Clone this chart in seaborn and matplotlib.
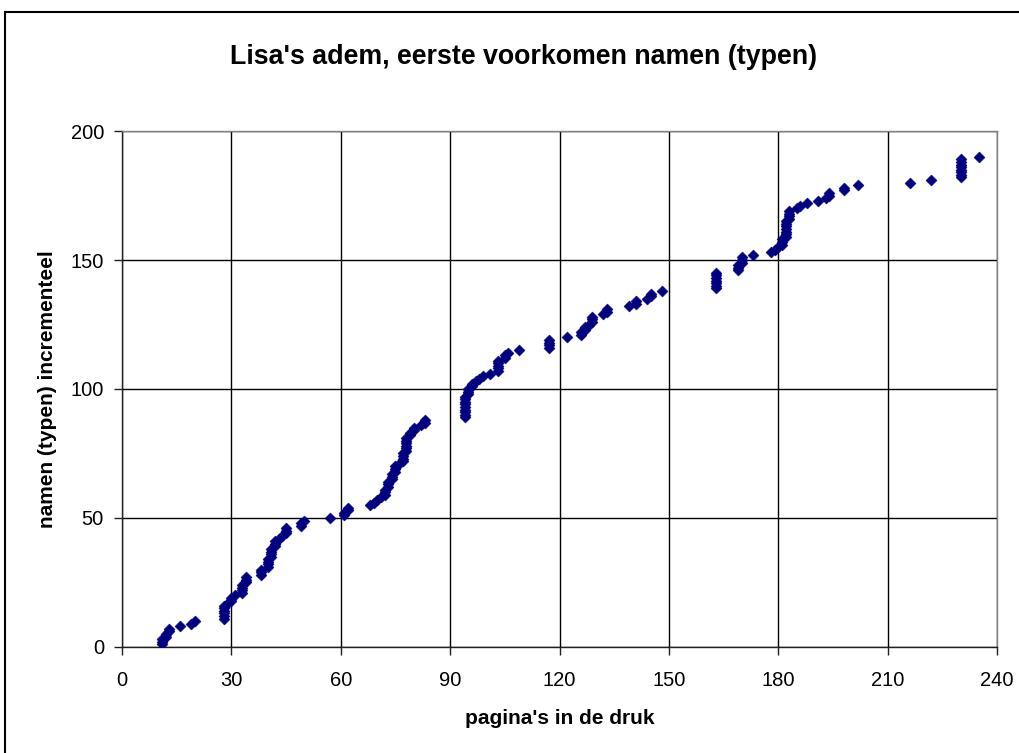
import matplotlib
matplotlib.use("Agg")
import matplotlib.pyplot as plt
import seaborn as sns
import pandas as pd
from matplotlib.patches import Rectangle

# Page (in the print edition) where each name occurs for the first time
pagina = [
    11, 11, 11, 12, 12, 13, 13, 16, 19, 20,
    28, 28, 28, 28, 28, 28, 29, 30, 30, 31,
    33, 33, 33, 33, 34, 34, 34, 38, 38, 38,
    40, 40, 40, 40, 41, 41, 41, 41, 42, 42,
    42, 43, 44, 45, 45, 45, 49, 49, 50, 57,
    61, 61, 62, 62, 68, 69, 70, 71, 72, 72,
    72, 73, 73, 73, 74, 74, 74, 75, 75, 75,
    76, 77, 77, 77, 77, 78, 78, 78, 78, 78,
    78, 79, 79, 80, 80, 82, 83, 83, 94, 94,
    94, 94, 94, 94, 94, 94, 94, 95, 95, 95,
    96, 96, 97, 98, 99, 101, 103, 103, 103, 103,
    103, 105, 105, 106, 109, 117, 117, 117, 117, 122,
    126, 126, 127, 127, 128, 129, 129, 129, 132, 133,
    133, 139, 141, 141, 144, 145, 145, 148, 163, 163,
    163, 163, 163, 163, 163, 169, 169, 169, 170, 170,
    170, 173, 178, 179, 180, 181, 181, 181, 182, 182,
    182, 182, 182, 182, 182, 183, 183, 183, 183, 185,
    186, 188, 191, 193, 194, 194, 198, 198, 202, 216,
    222, 230, 230, 230, 230, 230, 230, 230, 230, 235,
]

# Running count of distinct names (types)
namen = [
    1, 2, 3, 4, 5, 6, 7, 8, 9, 10,
    11, 12, 13, 14, 15, 16, 17, 18, 19, 20,
    21, 22, 23, 24, 25, 26, 27, 28, 29, 30,
    31, 32, 33, 34, 35, 36, 37, 38, 39, 40,
    41, 42, 43, 44, 45, 46, 47, 48, 49, 50,
    51, 52, 53, 54, 55, 56, 57, 58, 59, 60,
    61, 62, 63, 64, 65, 66, 67, 68, 69, 70,
    71, 72, 73, 74, 75, 76, 77, 78, 79, 80,
    81, 82, 83, 84, 85, 86, 87, 88, 89, 90,
    91, 92, 93, 94, 95, 96, 97, 98, 99, 100,
    101, 102, 103, 104, 105, 106, 107, 108, 109, 110,
    111, 112, 113, 114, 115, 116, 117, 118, 119, 120,
    121, 122, 123, 124, 125, 126, 127, 128, 129, 130,
    131, 132, 133, 134, 135, 136, 137, 138, 139, 140,
    141, 142, 143, 144, 145, 146, 147, 148, 149, 150,
    151, 152, 153, 154, 155, 156, 157, 158, 159, 160,
    161, 162, 163, 164, 165, 166, 167, 168, 169, 170,
    171, 172, 173, 174, 175, 176, 177, 178, 179, 180,
    181, 182, 183, 184, 185, 186, 187, 188, 189, 190,
]

x_ticks = [0, 30, 60, 90, 120, 150, 180, 210, 240]
y_ticks = [0, 50, 100, 150, 200]

sns.set_theme(style="white")
plt.rcParams['font.family'] = ['Liberation Sans', 'DejaVu Sans']
plt.rcParams['text.color'] = 'black'
plt.rcParams['axes.labelcolor'] = 'black'
plt.rcParams['xtick.color'] = 'black'
plt.rcParams['ytick.color'] = 'black'

df = pd.DataFrame({'pagina': pagina, 'namen': namen})

fig = plt.figure(figsize=(10.2, 7.53), dpi=100)
ax = fig.add_axes([0.1196, 0.1408, 0.9775 - 0.1196, 0.826 - 0.1408])

sns.scatterplot(data=df, x='pagina', y='namen', ax=ax, marker='D', s=32,
                color='#000080', edgecolor='#000080', linewidth=0.3, zorder=3)

ax.set_xlim(0, 240)
ax.set_ylim(0, 200)
ax.set_xticks(x_ticks)
ax.set_yticks(y_ticks)
ax.grid(True, color='black', linewidth=1.0)
ax.set_axisbelow(True)

for side in ['left', 'bottom']:
    ax.spines[side].set_color('#202020')
    ax.spines[side].set_linewidth(1.0)
for side in ['top', 'right']:
    ax.spines[side].set_color('#808080')
    ax.spines[side].set_linewidth(1.0)

ax.tick_params(axis='both', which='major', direction='out', length=6, width=1,
               color='#202020', labelsize=14.5, bottom=True, left=True)
ax.tick_params(axis='x', pad=11)
ax.tick_params(axis='y', pad=7)

ax.set_xlabel("pagina's in de druk", fontsize=15, fontweight='bold', labelpad=14)
ax.set_ylabel("namen (typen) incrementeel", fontsize=15, fontweight='bold', labelpad=10)
fig.text(0.5137, 0.924, "Lisa's adem, eerste voorkomen namen (typen)",
         ha='center', va='center', fontsize=19.3, fontweight='bold')

# outer chart border (only the left and top edges fall inside the picture)
fig.patches.append(Rectangle((0.005, -0.05), 1.2, 0.984 + 0.05, transform=fig.transFigure,
                             fill=False, edgecolor='black', linewidth=1.5))

fig.savefig('out.png', dpi=100, facecolor='white')
